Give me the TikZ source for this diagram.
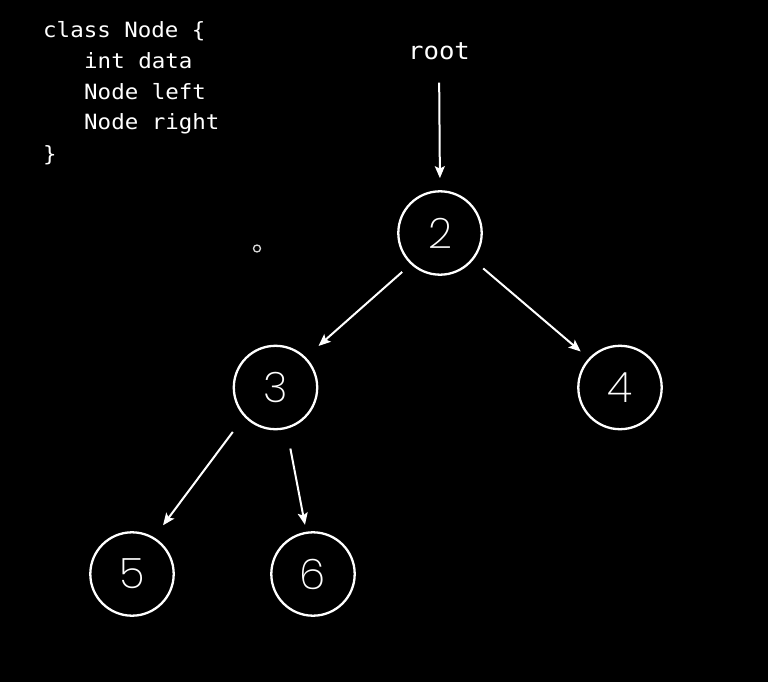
\documentclass[tikz,border=0pt]{standalone}
\usepackage{fontspec}
\usetikzlibrary{arrows.meta}
\newfontfamily\codefont[FakeStretch=1.07]{DejaVu Sans Mono}
\newfontfamily\numfont{Poppins ExtraLight}
\tikzset{
  treenode/.style={circle, draw=white, line width=2.3pt, minimum size=83.4pt, inner sep=0pt,
    text=white, font=\numfont\fontsize{42}{42}\selectfont},
  codeline/.style={anchor=base west, inner sep=0pt, text=white,
    font=\codefont\fontsize{21}{24}\selectfont},
  arr/.style={draw=white, line width=2pt, -{Stealth[length=12pt,width=10pt,inset=2.5pt]}},
}
\begin{document}
\begin{tikzpicture}[x=1pt,y=-1pt]
\fill[black] (0,0) rectangle (768,682);
\useasboundingbox (0,0) rectangle (768,682);
% code
\node[codeline] (c1) at (43,38) {class Node \{};
\node[codeline] (c2) at (84,69) {int data};
\node[codeline] (c3) at (84,100) {Node left};
\node[codeline] (c4) at (84,130) {Node right};
\node[codeline] (c5) at (43,161) {\}};
% root label
\node[anchor=base, inner sep=0pt, text=white, font=\codefont\fontsize{24}{26}\selectfont] (root) at (439,60) {root};
% stray small circle
\node[circle, draw=white!85!black, line width=1.3pt, minimum size=7pt, inner sep=0pt] (dot) at (257,248.5) {};
% tree nodes
\node[treenode] (n2) at (440,233) {2};
\node[treenode] (n3) at (275.5,387.5) {3};
\node[treenode] (n4) at (620,387.5) {4};
\node[treenode] (n5) at (132,574) {5};
\node[treenode] (n6) at (313,574) {6};
% connectors
\draw[arr, shorten <=22pt, shorten >=12pt] (root.south) -- (n2.north);
\draw[arr, shorten <=11.5pt, shorten >=17pt] (n2.227) -- (n3.45);
\draw[arr, shorten <=13pt, shorten >=10.5pt] (n2.321.5) -- (n4.137);
\draw[arr, shorten <=19pt, shorten >=15pt] (n3.223) -- (n5.59);
\draw[arr, shorten <=20pt, shorten >=7pt] (n3.285) -- (n6.99);
\end{tikzpicture}
\end{document}
